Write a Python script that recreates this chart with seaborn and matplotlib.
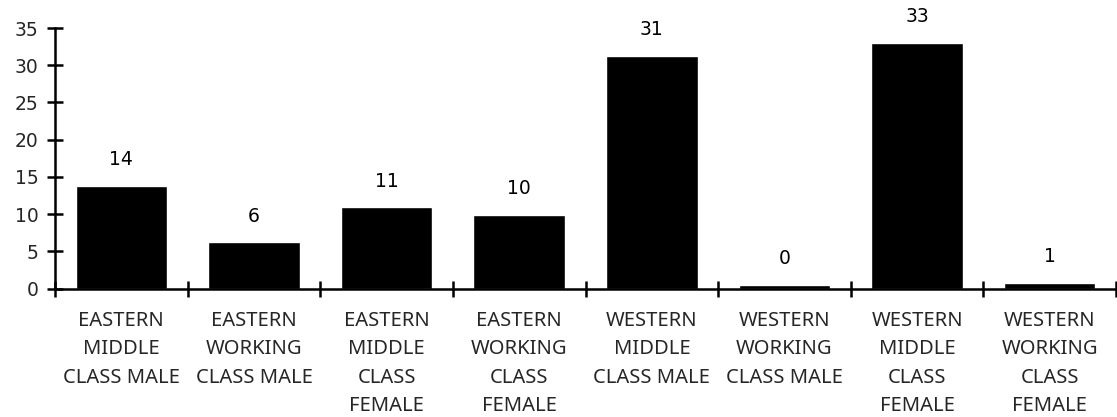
import matplotlib
matplotlib.use("Agg")
import matplotlib.pyplot as plt
import seaborn as sns
import pandas as pd
import numpy as np

categories = [
    "EASTERN\nMIDDLE\nCLASS MALE",
    "EASTERN\nWORKING\nCLASS MALE",
    "EASTERN\nMIDDLE\nCLASS\nFEMALE",
    "EASTERN\nWORKING\nCLASS\nFEMALE",
    "WESTERN\nMIDDLE\nCLASS MALE",
    "WESTERN\nWORKING\nCLASS MALE",
    "WESTERN\nMIDDLE\nCLASS\nFEMALE",
    "WESTERN\nWORKING\nCLASS\nFEMALE",
]
values = [13.8, 6.2, 10.9, 9.9, 31.3, 0.45, 33.0, 0.8]
labels = ["14", "6", "11", "10", "31", "0", "33", "1"]
yticks = [0, 5, 10, 15, 20, 25, 30, 35]

sns.set_theme(style="ticks")
plt.rcParams["font.family"] = ["Noto Sans", "DejaVu Sans"]

df = pd.DataFrame({"cat": categories, "val": values})

fig = plt.figure(figsize=(11.17, 4.17), dpi=100)
ax = fig.add_axes([55 / 1117, (417 - 288.5) / 417, (1116 - 55) / 1117, 260.5 / 417])
sns.barplot(data=df, x="cat", y="val", color="black", saturation=1, width=0.69, ax=ax)

fs = 14.5
nfs = 13.5
ax.set_ylim(0, 35)
ax.set_xlim(-0.5, 7.5)
ax.set_yticks(yticks)
ax.set_yticklabels([str(t) for t in yticks], fontsize=nfs, family="DejaVu Sans")
ax.set_xticks(range(len(categories)))
ax.set_xticklabels(categories, fontsize=fs, linespacing=1.56)
ax.tick_params(axis="x", which="major", bottom=True, length=0, pad=16)
ax.set_xticks(np.arange(-0.5, len(categories), 1.0), minor=True)
ax.tick_params(axis="x", which="minor", bottom=True, direction="inout", length=12, width=1.8, color="black")
ax.tick_params(axis="y", left=True, direction="inout", length=12, width=1.8, color="black", pad=6)
ax.set_xlabel("")
ax.set_ylabel("")

for s in ["top", "right"]:
    ax.spines[s].set_visible(False)
for s in ["left", "bottom"]:
    ax.spines[s].set_color("black")
    ax.spines[s].set_linewidth(1.8)

for p, lab in zip(ax.patches, labels):
    ax.annotate(lab, (p.get_x() + p.get_width() / 2, p.get_height()),
                xytext=(0, 12), textcoords="offset points",
                ha="center", va="bottom", fontsize=nfs, family="DejaVu Sans", color="black")

fig.savefig("out.png", dpi=100)
